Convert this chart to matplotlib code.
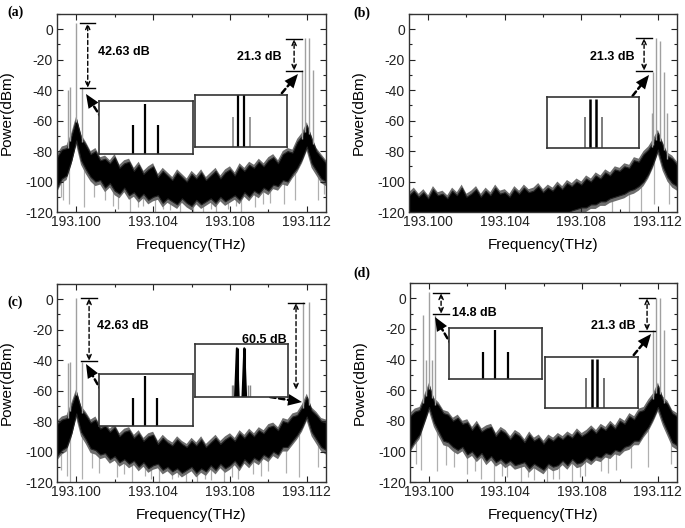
import numpy as np
import matplotlib
matplotlib.use("Agg")
import matplotlib.pyplot as plt
from matplotlib.ticker import FixedLocator, MultipleLocator

plt.rcParams['font.family'] = ['Liberation Sans', 'DejaVu Sans']
plt.rcParams['axes.unicode_minus'] = False

# ---------------- data ----------------
FREQ = np.linspace(193.099, 193.113, 57)   # sampling grid (THz) at which the envelopes were read

X_TICKS = [193.100, 193.104, 193.108, 193.112]
X_TICKLABELS = ["193.100", "193.104", "193.108", "193.112"]
Y_TICKS = [-120, -100, -80, -60, -40, -20, 0]
Y_TICKLABELS = ["-120", "-100", "-80", "-60", "-40", "-20", "0"]

# noise band: upper / lower envelopes (dBm)
A_TOP = [-84, -79, -78, -70, -59, -71, -76, -82, -80, -86, -85, -88, -84, -91, -88, -87, -93, -89, -95,
         -92, -90, -97, -93, -96, -99, -94, -97, -100, -95, -98, -94, -99, -96, -93, -98, -94, -92, -96,
         -90, -93, -89, -91, -87, -90, -86, -84, -88, -82, -80, -81, -74, -70, -63, -72, -80, -84, -88]
A_BOT = [-104, -98, -96, -86, -73, -86, -92, -97, -100, -99, -104, -101, -106, -108, -104, -109, -107,
         -111, -108, -112, -110, -109, -114, -111, -113, -115, -111, -114, -116, -112, -115, -113, -111,
         -114, -110, -113, -111, -109, -112, -107, -110, -106, -108, -104, -106, -102, -103, -99, -100,
         -95, -91, -85, -77, -88, -93, -98, -100]

B_TOP = [-109, -106, -110, -107, -111, -105, -109, -108, -111, -106, -109, -104, -110, -108, -105, -110,
         -106, -109, -104, -108, -107, -110, -105, -108, -104, -107, -106, -103, -107, -104, -106, -102,
         -105, -101, -103, -100, -102, -98, -100, -96, -98, -94, -96, -92, -93, -90, -91, -86, -87, -82,
         -79, -74, -68, -76, -83, -85, -89]
B_BOT = [-121, -121, -121, -121, -121, -121, -121, -121, -121, -121, -121, -121, -121, -121, -121, -121,
         -121, -121, -121, -121, -121, -121, -121, -121, -121, -121, -121, -121, -121, -121, -121, -121,
         -121, -121, -119, -118, -117, -117, -115, -115, -113, -113, -111, -110, -109, -108, -106, -105,
         -103, -100, -95, -88, -79, -90, -97, -101, -103]

C_TOP = [-82, -79, -78, -70, -61, -72, -76, -81, -79, -85, -83, -87, -84, -90, -87, -86, -91, -88, -93,
         -90, -89, -95, -91, -94, -96, -92, -95, -97, -93, -96, -92, -97, -94, -91, -95, -92, -90, -93,
         -88, -91, -87, -90, -86, -88, -84, -83, -86, -80, -81, -77, -76, -71, -64, -73, -76, -80, -81]
C_BOT = [-103, -99, -97, -88, -75, -87, -92, -98, -99, -102, -101, -105, -103, -107, -105, -108, -106,
         -110, -107, -111, -109, -108, -112, -110, -113, -111, -114, -112, -110, -114, -111, -113, -109,
         -112, -108, -111, -109, -106, -110, -105, -108, -104, -106, -102, -104, -100, -102, -97, -97,
         -93, -89, -84, -77, -87, -92, -97, -99]

D_TOP = [-77, -74, -73, -65, -57, -67, -70, -75, -76, -80, -78, -82, -81, -86, -82, -87, -85, -84, -90,
         -86, -88, -92, -88, -90, -94, -89, -93, -91, -95, -91, -93, -90, -92, -89, -91, -87, -90, -88,
         -85, -88, -84, -86, -82, -85, -80, -82, -77, -79, -74, -73, -68, -64, -57, -66, -69, -75, -77]
D_BOT = [-98, -93, -89, -80, -71, -81, -87, -93, -94, -97, -99, -97, -102, -100, -104, -101, -106, -103,
         -107, -105, -108, -106, -109, -108, -107, -111, -108, -110, -112, -108, -110, -109, -106, -109,
         -105, -108, -107, -104, -106, -103, -104, -101, -102, -99, -100, -97, -96, -93, -93, -88, -84,
         -78, -71, -80, -87, -94, -96]

# narrow spectral lines (frequency, peak power)
A_LINE_F = [193.09957, 193.0997, 193.1000, 193.1003, 193.11175, 193.1119, 193.1121, 193.1123]
A_LINE_P = [-40, -38, 4, -38, -27, -6, -6, -27]
B_LINE_F = [193.1117, 193.11175, 193.1119, 193.1121, 193.1123, 193.1125]
B_LINE_P = [-55, -28, -6, -8, -28, -55]
C_LINE_F = [193.09957, 193.0997, 193.1000, 193.1003, 193.1118, 193.1121]
C_LINE_P = [-42, -41, 1, -41, -2, -2]
D_LINE_F = [193.0997, 193.09985, 193.1000, 193.10015, 193.1003, 193.11175, 193.1119, 193.1121, 193.1123]
D_LINE_P = [-11, -40, 4, -40, -11, -21, 0, 0, -21]

# downward noise spikes (frequency, lowest power)
A_DIP_F = [193.0992, 193.0993, 193.0996, 193.1004, 193.1009, 193.1015, 193.1019, 193.1022, 193.1028,
           193.1032, 193.1035, 193.1041, 193.1045, 193.1049, 193.1054, 193.1058, 193.1061, 193.1066,
           193.1070, 193.1073, 193.1079, 193.1083, 193.1086, 193.1093, 193.1097, 193.1101, 193.1108,
           193.1114, 193.1126, 193.1129]
A_DIP_P = [-110, -112, -115, -117, -110, -112, -116, -118, -120, -117, -116, -120, -118, -119, -120,
           -117, -120, -120, -118, -120, -118, -116, -120, -117, -115, -114, -115, -112, -112, -108]
B_DIP_F = [193.1096, 193.1105, 193.1111, 193.1118, 193.1126]
B_DIP_P = [-120, -120, -120, -115, -115]
C_DIP_F = [193.0992, 193.0995, 193.0997, 193.1003, 193.1008, 193.1012, 193.1021, 193.1025, 193.1029,
           193.1036, 193.1039, 193.1043, 193.1050, 193.1053, 193.1057, 193.1063, 193.1067, 193.1070,
           193.1077, 193.1081, 193.1084, 193.1092, 193.1096, 193.1100, 193.1109, 193.1116, 193.1126]
C_DIP_P = [-112, -116, -120, -118, -111, -114, -117, -115, -120, -116, -118, -120, -118, -117, -120,
           -120, -118, -119, -120, -117, -118, -115, -116, -113, -114, -117, -110]
D_DIP_F = [193.0993, 193.0996, 193.1004, 193.1009, 193.1013, 193.1020, 193.1024, 193.1027, 193.1034,
           193.1038, 193.1041, 193.1048, 193.1052, 193.1055, 193.1062, 193.1065, 193.1068, 193.1075,
           193.1079, 193.1082, 193.1090, 193.1094, 193.1098, 193.1106, 193.1115, 193.1127]
D_DIP_P = [-108, -112, -113, -109, -110, -115, -113, -118, -120, -116, -117, -120, -117, -119, -120,
           -118, -118, -120, -117, -116, -113, -114, -112, -111, -110, -108]

# inset spectra (relative position, relative height)
INSET_A1_X = [0.36, 0.49, 0.63]; INSET_A1_H = [0.55, 0.94, 0.55]
INSET_A2_X = [0.41, 0.47, 0.53, 0.60]; INSET_A2_H = [0.58, 1.0, 1.0, 0.58]
INSET_B_X = [0.41, 0.47, 0.53, 0.60]; INSET_B_H = [0.61, 0.96, 0.96, 0.61]
INSET_C1_X = [0.36, 0.49, 0.62]; INSET_C1_H = [0.54, 0.96, 0.54]
INSET_C2_X = [0.45, 0.53]; INSET_C2_H = [0.92, 0.92]
INSET_C2_SIDE_X = [0.395, 0.41, 0.575, 0.59]; INSET_C2_SIDE_H = [0.23, 0.23, 0.23, 0.23]
INSET_D1_X = [0.37, 0.49, 0.63]; INSET_D1_H = [0.53, 0.96, 0.53]
INSET_D2_X = [0.44, 0.50, 0.56, 0.63]; INSET_D2_H = [0.59, 0.96, 0.96, 0.59]

# ---------------- drawing ----------------
fig = plt.figure(figsize=(6.85, 5.28), dpi=100)

rects = {
    'a': [57/685, 1-212/528, 269/685, 198/528],
    'b': [409/685, 1-212/528, 268/685, 198/528],
    'c': [57/685, 1-482/528, 269/685, 198/528],
    'd': [410/685, 1-482/528, 267/685, 199/528],
}

def panel(key, top, bot, lf, lp, df, dp):
    ax = fig.add_axes(rects[key])
    ax.set_xlim(193.099, 193.113)
    ax.set_ylim(-120, 10)
    bot_arr = np.array(bot)
    top_arr = np.array(top)
    # dips
    ax.vlines(df, dp, np.interp(df, FREQ, bot_arr) + 3, color='#b0b0b0', lw=0.9, zorder=1)
    # grey halo of the noise band, then its dense black core
    ax.fill_between(FREQ, bot_arr - 3, top_arr + 2, facecolor='#6e6e6e', lw=0, zorder=1.5)
    ax.fill_between(FREQ, bot_arr, top_arr, facecolor='black', edgecolor='#222222', lw=0.8, zorder=2)
    # spectral lines
    ax.vlines(lf, np.interp(lf, FREQ, top_arr) - 2, lp, color='#a0a0a0', lw=1.0, zorder=3)
    ax.xaxis.set_major_locator(FixedLocator(X_TICKS))
    ax.set_xticklabels(X_TICKLABELS)
    ax.xaxis.set_minor_locator(MultipleLocator(0.002))
    ax.yaxis.set_major_locator(FixedLocator(Y_TICKS))
    ax.set_yticklabels(Y_TICKLABELS)
    ax.yaxis.set_minor_locator(MultipleLocator(10))
    ax.tick_params(which='both', direction='in', top=True, right=True, width=0.8, colors='#222222',
                   labelsize=10, pad=3)
    ax.tick_params(which='major', length=4)
    ax.tick_params(which='minor', length=2.5)
    ax.tick_params(axis='x', pad=2)
    for s in ax.spines.values():
        s.set_color('#333333'); s.set_linewidth(1.0)
    ax.set_xlabel('Frequency(THz)', fontsize=11, labelpad=7)
    ax.set_ylabel('Power(dBm)', fontsize=11, labelpad=8)
    return ax

def bracket(ax, x, ytop, ybot, hw=0.0004, bottom_bar=True):
    ax.plot([x - hw, x + hw], [ytop, ytop], color='black', lw=1.0, zorder=5)
    if bottom_bar:
        ax.plot([x - hw, x + hw], [ybot, ybot], color='black', lw=1.0, zorder=5)
    ax.annotate('', xy=(x, ytop), xytext=(x, ybot),
                arrowprops=dict(arrowstyle='<->,head_length=0.35,head_width=0.15', linestyle=(0, (3, 2)),
                                lw=1.0, color='black', shrinkA=0, shrinkB=0), zorder=5)

def big_arrow(ax, start, tip):
    ax.annotate('', xy=tip, xytext=start,
                arrowprops=dict(arrowstyle='-', linestyle=(0, (2.2, 1.4)), lw=1.8, color='black',
                                shrinkA=0, shrinkB=6), zorder=6)
    ax.annotate('', xy=tip, xytext=start,
                arrowprops=dict(arrowstyle='-|>,head_length=1.0,head_width=0.42', mutation_scale=10,
                                lw=0, color='black', shrinkA=0, shrinkB=0), zorder=6)

def label(ax, x, y, s):
    ax.text(x, y, s, fontsize=9, fontweight='bold', va='center', ha='left', zorder=6)

def inset(rect, xs, hs, colors, lws, extra=None):
    ia = fig.add_axes(rect)
    ia.set_xlim(0, 1); ia.set_ylim(0, 1)
    ia.set_xticks([]); ia.set_yticks([])
    for s in ia.spines.values():
        s.set_color('#333333'); s.set_linewidth(1.2)
    ia.vlines(xs, 0, hs, colors=colors, linewidths=lws)
    if extra:
        extra(ia)
    return ia

# panel (a)
ax = panel('a', A_TOP, A_BOT, A_LINE_F, A_LINE_P, A_DIP_F, A_DIP_P)
bracket(ax, 193.1006, 4.1, -38.6)
bracket(ax, 193.11134, -6.4, -27.4)
label(ax, 193.10113, -15, '42.63 dB')
label(ax, 193.10837, -18.2, '21.3 dB')
big_arrow(ax, (193.10134, -58.9), (193.10051, -42.5))
big_arrow(ax, (193.1104, -46.5), (193.11154, -29.4))

# panel (b)
ax = panel('b', B_TOP, B_BOT, B_LINE_F, B_LINE_P, B_DIP_F, B_DIP_P)
bracket(ax, 193.11128, -5.8, -27.4)
label(ax, 193.10845, -18.2, '21.3 dB')
big_arrow(ax, (193.11039, -48.4), (193.11154, -30.0))

# panel (c)
ax = panel('c', C_TOP, C_BOT, C_LINE_F, C_LINE_P, C_DIP_F, C_DIP_P)
bracket(ax, 193.10067, 0.8, -40.6)
bracket(ax, 193.11144, -2.3, -59.6, bottom_bar=False)
label(ax, 193.10108, -17.6, '42.63 dB')
ax.text(193.10863, -26.8, '60.5 dB', fontsize=9, fontweight='bold', va='center', ha='left', zorder=7)
big_arrow(ax, (193.10134, -60.9), (193.10051, -42.5))
big_arrow(ax, (193.11009, -64.2), (193.11175, -67.5))

# panel (d)
ax = panel('d', D_TOP, D_BOT, D_LINE_F, D_LINE_P, D_DIP_F, D_DIP_P)
bracket(ax, 193.10063, 3.5, -10.3)
bracket(ax, 193.11143, 0.2, -21.4)
label(ax, 193.1012, -9.6, '14.8 dB')
label(ax, 193.10849, -18.1, '21.3 dB')
big_arrow(ax, (193.1012, -31.2), (193.10031, -12.2))
big_arrow(ax, (193.11043, -41.6), (193.11164, -23.3))

# insets
def px_rect(x0, x1, y0, y1):
    return [x0/685, 1-y1/528, (x1-x0)/685, (y1-y0)/528]

inset(px_rect(99, 193, 101, 154), INSET_A1_X, INSET_A1_H, 'black', 1.6)
inset(px_rect(195, 287, 95, 147), INSET_A2_X, INSET_A2_H, ['#888888', 'black', 'black', '#888888'],
      [1.2, 1.6, 1.6, 1.2])
inset(px_rect(547, 639, 97, 148), INSET_B_X, INSET_B_H, ['#666666', 'black', 'black', '#666666'],
      [1.2, 1.8, 1.8, 1.2])
inset(px_rect(99, 193, 374, 426), INSET_C1_X, INSET_C1_H, 'black', 1.6)

def c2_extra(ia):
    ia.vlines(INSET_C2_SIDE_X, 0, INSET_C2_SIDE_H, colors='#888888', linewidths=1.0)
    for c, h in zip(INSET_C2_X, INSET_C2_H):
        ia.plot([c - 0.02, c, c + 0.02], [0, h, 0], color='black', lw=1.4)
inset(px_rect(195, 288, 344, 397), INSET_C2_X, INSET_C2_H, 'black', 2.2, extra=c2_extra)
inset(px_rect(449, 542, 328, 379), INSET_D1_X, INSET_D1_H, 'black', 1.6)
inset(px_rect(545, 638, 357, 408), INSET_D2_X, INSET_D2_H, ['#555555', 'black', 'black', '#555555'],
      [1.2, 1.8, 1.8, 1.2])

# panel letters
for s, x, y in [('(a)', 7, 12), ('(b)', 353, 13), ('(c)', 7, 302), ('(d)', 353, 273)]:
    fig.text(x/685, 1-y/528, s, fontsize=10, fontweight='bold', va='center', ha='left',
             family=['Liberation Serif', 'DejaVu Serif'])

fig.savefig('out.png', dpi=100)
